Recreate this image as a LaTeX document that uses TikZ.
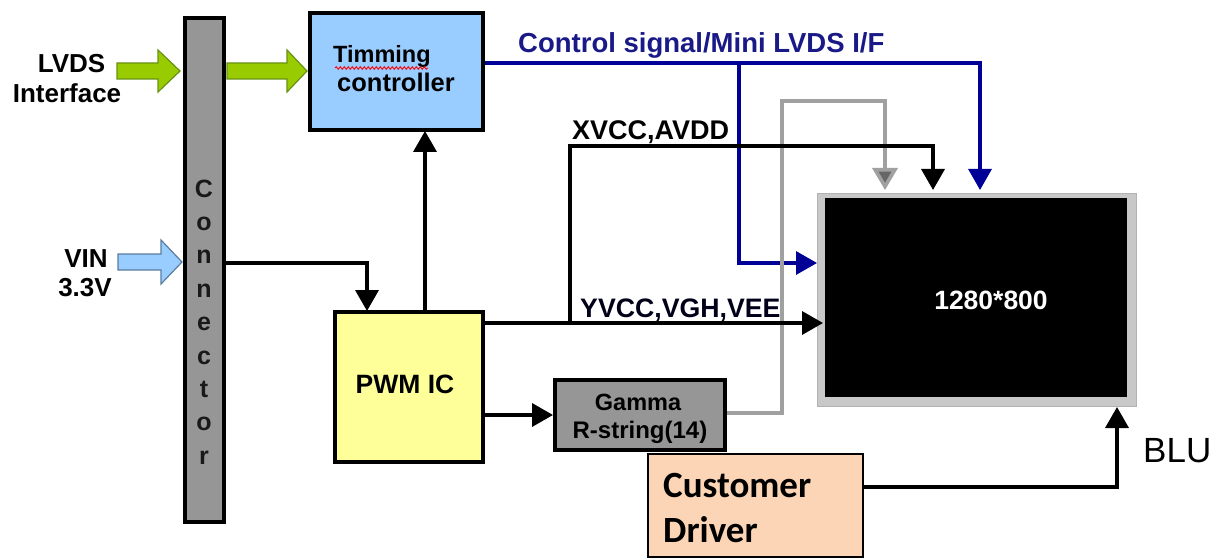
\documentclass[tikz,border=0pt]{standalone}
\usepackage{fontspec}
\setmainfont{Liberation Sans}
\newfontfamily\calfont{Carlito}
\usetikzlibrary{arrows.meta,decorations.pathmorphing}
\definecolor{tcblue}{RGB}{153,204,255}
\definecolor{pwmyel}{RGB}{255,255,153}
\definecolor{boxgray}{RGB}{150,150,150}
\definecolor{custpeach}{RGB}{251,213,181}
\definecolor{lvdsgreen}{RGB}{153,204,0}
\definecolor{lvdsedge}{RGB}{105,145,20}
\definecolor{vinedge}{RGB}{90,125,160}
\definecolor{sigblue}{RGB}{0,0,150}
\definecolor{txtblue}{RGB}{25,25,135}
\definecolor{sgray}{RGB}{160,160,160}
\definecolor{framegray}{RGB}{200,200,200}
\newcommand{\fsz}[1]{\fontsize{#1}{#1}\selectfont}
\tikzset{
  blk/.style={draw=black, line width=4pt, inner sep=0pt},
  lbl/.style={inner sep=0pt, font=\bfseries\fsz{26}},
  wire/.style={line width=3.6pt, -{Triangle[length=21pt,width=23pt]}},
  bwire/.style={draw=sigblue, line width=3.2pt, -{Triangle[length=21pt,width=23pt]}},
  gwire/.style={draw=sgray, line width=3.6pt, -{Triangle[length=22pt,width=25pt,fill=gray!80!black]}},
}
\begin{document}
\begin{tikzpicture}[x=1pt,y=-1pt]
\useasboundingbox (0,0) rectangle (1221,559);
\fill[white] (0,0) rectangle (1221,559);

% boxes
\node[blk, fill=boxgray, minimum width=39pt, minimum height=504pt] (conn) at (204.5,270) {};
\node[blk, fill=tcblue, minimum width=173pt, minimum height=117pt] (tc) at (396.5,71.5) {};
\node[blk, fill=pwmyel, minimum width=148pt, minimum height=150pt] (pwm) at (409,387) {};
\node[blk, fill=boxgray, minimum width=170pt, minimum height=70pt] (gam) at (640,415) {};
\node[draw=gray!60, line width=1pt, fill=framegray, minimum width=319pt, minimum height=213pt, inner sep=0pt] (panel) at (976.5,299.5) {};
\node[fill=black, minimum width=302pt, minimum height=199pt, inner sep=0pt] (scr) at (976,297.5) {};
\node[draw=black, line width=2pt, fill=custpeach, minimum width=215pt, minimum height=103pt, inner sep=0pt] (cd) at (755.5,505.5) {};

% block arrows
\filldraw[fill=lvdsgreen, draw=lvdsedge, line width=1.2pt] (117,63) -- (158,63) -- (158,50) -- (180,71) -- (158,92) -- (158,79) -- (117,79) -- cycle;
\filldraw[fill=lvdsgreen, draw=lvdsedge, line width=1.2pt] (227,63) -- (287,63) -- (287,50) -- (307,71) -- (287,92) -- (287,79) -- (227,79) -- cycle;
\filldraw[fill=tcblue, draw=vinedge, line width=1.2pt] (118,254) -- (161,254) -- (161,240) -- (182,262) -- (161,284) -- (161,270) -- (118,270) -- cycle;

% texts
\node[lbl, anchor=base] (tlvds) at (71.5,73) {LVDS};
\node[lbl, anchor=base] (tintf) at (67,103) {Interface};
\node[lbl, anchor=base] (tvin) at (86,267) {VIN};
\node[lbl, anchor=base] (t33) at (85,296) {3.3V};
\foreach \ch [count=\i from 0] in {C,o,n,n,e,c,t,o,r}
  \node[inner sep=0pt, anchor=base, font=\bfseries\fsz{25}, text=black!90] (cl\i) at (204,197+33.4*\i) {\ch};
\node[lbl, anchor=base west, font=\bfseries\fsz{23.5}] (ttim) at (333,63) {Timming};
\node[lbl, anchor=base west, font=\bfseries\fsz{25.5}] (tctl) at (337,92) {controller};
\draw[red, line width=0.9pt, decorate, decoration={snake, amplitude=1.3pt, segment length=4pt}] (ttim.base west) ++(2,5) -- ++(93,0);
\node[lbl, anchor=base west, text=txtblue, font=\bfseries\fsz{27.5}] (tctrl) at (518,53) {Control signal/Mini LVDS I/F};
\node[lbl, anchor=base west, font=\bfseries\fsz{27}] (txv) at (572,140) {XVCC,AVDD};
\node[lbl, anchor=base west, font=\bfseries\fsz{26.7}, text=black!90!blue] (tyv) at (580,317) {YVCC,VGH,VEE};
\node[lbl, anchor=base, font=\bfseries\fsz{26.5}] (tpwm) at (405,393) {PWM IC};
\node[lbl, anchor=base, font=\bfseries\fsz{23.5}] (tgam1) at (638,410) {Gamma};
\node[lbl, anchor=base, font=\bfseries\fsz{24}] (tgam2) at (640,438) {R-string(14)};
\node[lbl, anchor=base, text=white, font=\bfseries\fsz{26.5}] (tres) at (991,309) {1280*800};
\node[inner sep=0pt, anchor=base west, font=\calfont\bfseries\fsz{37}] (tcust) at (663,497) {Customer};
\node[inner sep=0pt, anchor=base west, font=\calfont\bfseries\fsz{37}] (tdrv) at (663,542) {Driver};
\node[inner sep=0pt, anchor=base west, font=\fsz{35}] (tblu) at (1143,462) {BLU};

% coordinates
\coordinate (bT) at (tc.east |- 0,63);
\coordinate (bJ) at (739,63);
\coordinate (xJ) at (570,323);
\coordinate (gE) at (gam.east |- 0,413);

% blue signals
\draw[bwire] (bT) -- (980,63) -- (980,190);
\draw[bwire] (bJ) -- (739,263) -- (817,263);
% gray gamma
\draw[gwire] (gE) -- (782,413) -- (782,101) -- (885,101) -- (885,190);
% XVCC
\draw[wire] (xJ) -- (570,146) -- (933,146) -- (933,190);
% YVCC
\draw[wire] (pwm.east |- 0,323) -- (823,323);
% PWM -> TC
\draw[wire] (pwm.north -| 425,0) -- (425,131);
% Connector -> PWM
\draw[wire] (conn.east |- 0,263) -- (367,263) -- (367,311);
% PWM -> Gamma
\draw[wire] (pwm.east |- 0,415) -- (gam.west |- 0,415);
% Customer -> panel
\draw[wire] (cd.east |- 0,487) -- (1117,487) -- (1117,407);
\end{tikzpicture}
\end{document}
